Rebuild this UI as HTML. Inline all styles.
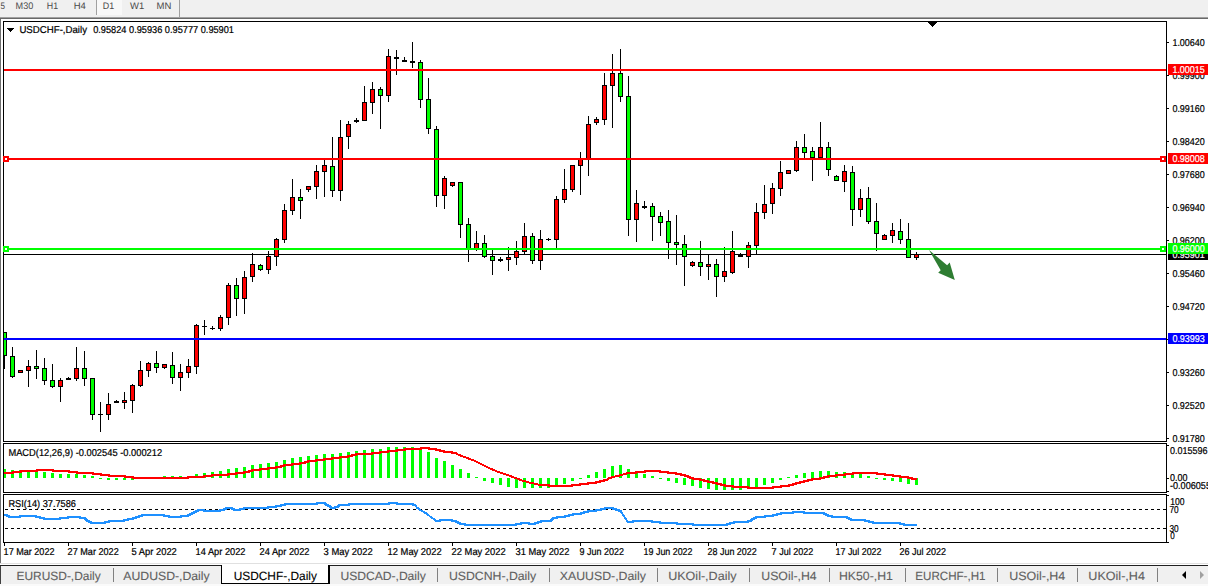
<!DOCTYPE html>
<html><head><meta charset="utf-8"><title>USDCHF-,Daily</title>
<style>html,body{margin:0;padding:0;background:#fff;overflow:hidden}svg{display:block}text{font-family:"Liberation Sans",sans-serif}</style>
</head><body>
<svg width="1208" height="586" viewBox="0 0 1208 586">
<rect x="0" y="0" width="1208" height="586" fill="#fff"/>
<rect x="0" y="0" width="1208" height="17" fill="#f0f0f0"/>
<rect x="0" y="17" width="1208" height="1" fill="#a0a0a0"/>
<rect x="0" y="18" width="1208" height="1" fill="#696969"/>
<rect x="97" y="0" width="25" height="15" fill="#f8f8f8"/>
<rect x="96" y="0" width="1" height="15" fill="#a0a0a0"/>
<rect x="179" y="0" width="1" height="17" fill="#a0a0a0"/>
<text x="0.5" y="9" font-size="9.5" fill="#4a4a4a" textLength="4.5" lengthAdjust="spacingAndGlyphs" stroke="#4a4a4a" stroke-width="0" text-rendering="geometricPrecision">5</text>
<text x="15.6" y="9" font-size="9.5" fill="#4a4a4a" textLength="17.7" lengthAdjust="spacingAndGlyphs" stroke="#4a4a4a" stroke-width="0" text-rendering="geometricPrecision">M30</text>
<text x="46.8" y="9" font-size="9.5" fill="#4a4a4a" textLength="11.3" lengthAdjust="spacingAndGlyphs" stroke="#4a4a4a" stroke-width="0" text-rendering="geometricPrecision">H1</text>
<text x="73.7" y="9" font-size="9.5" fill="#4a4a4a" textLength="12.1" lengthAdjust="spacingAndGlyphs" stroke="#4a4a4a" stroke-width="0" text-rendering="geometricPrecision">H4</text>
<text x="102.8" y="9" font-size="9.5" fill="#4a4a4a" textLength="11.4" lengthAdjust="spacingAndGlyphs" stroke="#4a4a4a" stroke-width="0" text-rendering="geometricPrecision">D1</text>
<text x="130" y="9" font-size="9.5" fill="#4a4a4a" textLength="14.2" lengthAdjust="spacingAndGlyphs" stroke="#4a4a4a" stroke-width="0" text-rendering="geometricPrecision">W1</text>
<text x="156.6" y="9" font-size="9.5" fill="#4a4a4a" textLength="14.8" lengthAdjust="spacingAndGlyphs" stroke="#4a4a4a" stroke-width="0" text-rendering="geometricPrecision">MN</text>
<rect x="0" y="19" width="1" height="545" fill="#707070"/>
<rect x="3" y="21" width="1164" height="1" fill="#000"/>
<rect x="3" y="441" width="1164" height="1" fill="#000"/>
<rect x="3" y="21" width="1" height="421" fill="#000"/>
<rect x="1166" y="21" width="1" height="421" fill="#000"/>
<rect x="3" y="443" width="1164" height="1" fill="#000"/>
<rect x="3" y="492" width="1164" height="1" fill="#000"/>
<rect x="3" y="443" width="1" height="50" fill="#000"/>
<rect x="1166" y="443" width="1" height="50" fill="#000"/>
<rect x="3" y="494" width="1164" height="1" fill="#000"/>
<rect x="3" y="542" width="1164" height="1" fill="#000"/>
<rect x="3" y="494" width="1" height="49" fill="#000"/>
<rect x="1166" y="494" width="1" height="49" fill="#000"/>
<g shape-rendering="crispEdges">
<rect x="4" y="254" width="1162" height="1" fill="#000"/>
<rect x="4" y="332" width="1" height="37" fill="#000"/>
<rect x="2" y="332" width="5" height="24" fill="#000"/>
<rect x="3" y="333" width="3" height="22" fill="#00ff00"/>
<rect x="12" y="347" width="1" height="31" fill="#000"/>
<rect x="10" y="356" width="5" height="21" fill="#000"/>
<rect x="11" y="357" width="3" height="19" fill="#00ff00"/>
<rect x="20" y="370" width="1" height="3" fill="#000"/>
<rect x="18" y="370" width="5" height="3" fill="#000"/>
<rect x="19" y="371" width="3" height="1" fill="#ff0000"/>
<rect x="28" y="360" width="1" height="27" fill="#000"/>
<rect x="26" y="366" width="5" height="5" fill="#000"/>
<rect x="27" y="367" width="3" height="3" fill="#ff0000"/>
<rect x="36" y="350" width="1" height="29" fill="#000"/>
<rect x="34" y="366" width="5" height="3" fill="#000"/>
<rect x="35" y="367" width="3" height="1" fill="#00ff00"/>
<rect x="44" y="358" width="1" height="27" fill="#000"/>
<rect x="42" y="368" width="5" height="13" fill="#000"/>
<rect x="43" y="369" width="3" height="11" fill="#00ff00"/>
<rect x="52" y="364" width="1" height="24" fill="#000"/>
<rect x="50" y="380" width="5" height="7" fill="#000"/>
<rect x="51" y="381" width="3" height="5" fill="#00ff00"/>
<rect x="60" y="378" width="1" height="24" fill="#000"/>
<rect x="58" y="380" width="5" height="7" fill="#000"/>
<rect x="59" y="381" width="3" height="5" fill="#ff0000"/>
<rect x="68" y="377" width="1" height="3" fill="#000"/>
<rect x="66" y="378" width="5" height="2" fill="#000"/>
<rect x="76" y="347" width="1" height="34" fill="#000"/>
<rect x="74" y="368" width="5" height="11" fill="#000"/>
<rect x="75" y="369" width="3" height="9" fill="#ff0000"/>
<rect x="84" y="351" width="1" height="35" fill="#000"/>
<rect x="82" y="368" width="5" height="11" fill="#000"/>
<rect x="83" y="369" width="3" height="9" fill="#00ff00"/>
<rect x="92" y="378" width="1" height="42" fill="#000"/>
<rect x="90" y="378" width="5" height="37" fill="#000"/>
<rect x="91" y="379" width="3" height="35" fill="#00ff00"/>
<rect x="100" y="402" width="1" height="30" fill="#000"/>
<rect x="98" y="414" width="5" height="1" fill="#000"/>
<rect x="108" y="393" width="1" height="27" fill="#000"/>
<rect x="106" y="404" width="5" height="11" fill="#000"/>
<rect x="107" y="405" width="3" height="9" fill="#ff0000"/>
<rect x="116" y="400" width="1" height="3" fill="#000"/>
<rect x="114" y="401" width="5" height="2" fill="#000"/>
<rect x="124" y="392" width="1" height="17" fill="#000"/>
<rect x="122" y="400" width="5" height="3" fill="#000"/>
<rect x="123" y="401" width="3" height="1" fill="#ff0000"/>
<rect x="132" y="384" width="1" height="29" fill="#000"/>
<rect x="130" y="385" width="5" height="16" fill="#000"/>
<rect x="131" y="386" width="3" height="14" fill="#ff0000"/>
<rect x="140" y="361" width="1" height="26" fill="#000"/>
<rect x="138" y="370" width="5" height="16" fill="#000"/>
<rect x="139" y="371" width="3" height="14" fill="#ff0000"/>
<rect x="148" y="362" width="1" height="15" fill="#000"/>
<rect x="146" y="363" width="5" height="8" fill="#000"/>
<rect x="147" y="364" width="3" height="6" fill="#ff0000"/>
<rect x="156" y="351" width="1" height="22" fill="#000"/>
<rect x="154" y="363" width="5" height="5" fill="#000"/>
<rect x="155" y="364" width="3" height="3" fill="#00ff00"/>
<rect x="164" y="364" width="1" height="5" fill="#000"/>
<rect x="162" y="364" width="5" height="4" fill="#000"/>
<rect x="163" y="365" width="3" height="2" fill="#ff0000"/>
<rect x="172" y="352" width="1" height="32" fill="#000"/>
<rect x="170" y="365" width="5" height="13" fill="#000"/>
<rect x="171" y="366" width="3" height="11" fill="#00ff00"/>
<rect x="180" y="364" width="1" height="27" fill="#000"/>
<rect x="178" y="372" width="5" height="6" fill="#000"/>
<rect x="179" y="373" width="3" height="4" fill="#ff0000"/>
<rect x="188" y="359" width="1" height="19" fill="#000"/>
<rect x="186" y="366" width="5" height="7" fill="#000"/>
<rect x="187" y="367" width="3" height="5" fill="#ff0000"/>
<rect x="196" y="324" width="1" height="50" fill="#000"/>
<rect x="194" y="325" width="5" height="42" fill="#000"/>
<rect x="195" y="326" width="3" height="40" fill="#ff0000"/>
<rect x="204" y="320" width="1" height="15" fill="#000"/>
<rect x="202" y="326" width="5" height="1" fill="#000"/>
<rect x="212" y="326" width="1" height="4" fill="#000"/>
<rect x="210" y="328" width="5" height="1" fill="#000"/>
<rect x="220" y="315" width="1" height="16" fill="#000"/>
<rect x="218" y="317" width="5" height="12" fill="#000"/>
<rect x="219" y="318" width="3" height="10" fill="#ff0000"/>
<rect x="228" y="283" width="1" height="42" fill="#000"/>
<rect x="226" y="285" width="5" height="33" fill="#000"/>
<rect x="227" y="286" width="3" height="31" fill="#ff0000"/>
<rect x="236" y="278" width="1" height="38" fill="#000"/>
<rect x="234" y="285" width="5" height="14" fill="#000"/>
<rect x="235" y="286" width="3" height="12" fill="#00ff00"/>
<rect x="244" y="271" width="1" height="43" fill="#000"/>
<rect x="242" y="277" width="5" height="22" fill="#000"/>
<rect x="243" y="278" width="3" height="20" fill="#ff0000"/>
<rect x="252" y="253" width="1" height="29" fill="#000"/>
<rect x="250" y="264" width="5" height="13" fill="#000"/>
<rect x="251" y="265" width="3" height="11" fill="#ff0000"/>
<rect x="260" y="264" width="1" height="7" fill="#000"/>
<rect x="258" y="265" width="5" height="5" fill="#000"/>
<rect x="259" y="266" width="3" height="3" fill="#00ff00"/>
<rect x="268" y="251" width="1" height="23" fill="#000"/>
<rect x="266" y="256" width="5" height="14" fill="#000"/>
<rect x="267" y="257" width="3" height="12" fill="#ff0000"/>
<rect x="276" y="238" width="1" height="28" fill="#000"/>
<rect x="274" y="239" width="5" height="18" fill="#000"/>
<rect x="275" y="240" width="3" height="16" fill="#ff0000"/>
<rect x="284" y="204" width="1" height="39" fill="#000"/>
<rect x="282" y="210" width="5" height="30" fill="#000"/>
<rect x="283" y="211" width="3" height="28" fill="#ff0000"/>
<rect x="292" y="179" width="1" height="36" fill="#000"/>
<rect x="290" y="197" width="5" height="14" fill="#000"/>
<rect x="291" y="198" width="3" height="12" fill="#ff0000"/>
<rect x="300" y="189" width="1" height="30" fill="#000"/>
<rect x="298" y="197" width="5" height="4" fill="#000"/>
<rect x="299" y="198" width="3" height="2" fill="#00ff00"/>
<rect x="308" y="186" width="1" height="6" fill="#000"/>
<rect x="306" y="186" width="5" height="4" fill="#000"/>
<rect x="307" y="187" width="3" height="2" fill="#ff0000"/>
<rect x="316" y="165" width="1" height="34" fill="#000"/>
<rect x="314" y="171" width="5" height="16" fill="#000"/>
<rect x="315" y="172" width="3" height="14" fill="#ff0000"/>
<rect x="324" y="160" width="1" height="37" fill="#000"/>
<rect x="322" y="165" width="5" height="7" fill="#000"/>
<rect x="323" y="166" width="3" height="5" fill="#ff0000"/>
<rect x="332" y="137" width="1" height="60" fill="#000"/>
<rect x="330" y="166" width="5" height="25" fill="#000"/>
<rect x="331" y="167" width="3" height="23" fill="#00ff00"/>
<rect x="340" y="120" width="1" height="81" fill="#000"/>
<rect x="338" y="137" width="5" height="54" fill="#000"/>
<rect x="339" y="138" width="3" height="52" fill="#ff0000"/>
<rect x="348" y="121" width="1" height="28" fill="#000"/>
<rect x="346" y="124" width="5" height="13" fill="#000"/>
<rect x="347" y="125" width="3" height="11" fill="#ff0000"/>
<rect x="356" y="118" width="1" height="5" fill="#000"/>
<rect x="354" y="120" width="5" height="2" fill="#000"/>
<rect x="364" y="86" width="1" height="35" fill="#000"/>
<rect x="362" y="102" width="5" height="19" fill="#000"/>
<rect x="363" y="103" width="3" height="17" fill="#ff0000"/>
<rect x="372" y="82" width="1" height="32" fill="#000"/>
<rect x="370" y="89" width="5" height="14" fill="#000"/>
<rect x="371" y="90" width="3" height="12" fill="#ff0000"/>
<rect x="380" y="87" width="1" height="42" fill="#000"/>
<rect x="378" y="89" width="5" height="7" fill="#000"/>
<rect x="379" y="90" width="3" height="5" fill="#00ff00"/>
<rect x="388" y="49" width="1" height="53" fill="#000"/>
<rect x="386" y="56" width="5" height="40" fill="#000"/>
<rect x="387" y="57" width="3" height="38" fill="#ff0000"/>
<rect x="396" y="50" width="1" height="25" fill="#000"/>
<rect x="394" y="57" width="5" height="2" fill="#000"/>
<rect x="404" y="57" width="1" height="5" fill="#000"/>
<rect x="402" y="60" width="5" height="2" fill="#000"/>
<rect x="412" y="42" width="1" height="26" fill="#000"/>
<rect x="410" y="61" width="5" height="2" fill="#000"/>
<rect x="420" y="60" width="1" height="48" fill="#000"/>
<rect x="418" y="62" width="5" height="38" fill="#000"/>
<rect x="419" y="63" width="3" height="36" fill="#00ff00"/>
<rect x="428" y="78" width="1" height="56" fill="#000"/>
<rect x="426" y="99" width="5" height="30" fill="#000"/>
<rect x="427" y="100" width="3" height="28" fill="#00ff00"/>
<rect x="436" y="126" width="1" height="81" fill="#000"/>
<rect x="434" y="129" width="5" height="67" fill="#000"/>
<rect x="435" y="130" width="3" height="65" fill="#00ff00"/>
<rect x="444" y="176" width="1" height="33" fill="#000"/>
<rect x="442" y="178" width="5" height="18" fill="#000"/>
<rect x="443" y="179" width="3" height="16" fill="#ff0000"/>
<rect x="452" y="182" width="1" height="5" fill="#000"/>
<rect x="450" y="182" width="5" height="4" fill="#000"/>
<rect x="451" y="183" width="3" height="2" fill="#ff0000"/>
<rect x="460" y="182" width="1" height="56" fill="#000"/>
<rect x="458" y="182" width="5" height="43" fill="#000"/>
<rect x="459" y="183" width="3" height="41" fill="#00ff00"/>
<rect x="468" y="218" width="1" height="44" fill="#000"/>
<rect x="466" y="224" width="5" height="26" fill="#000"/>
<rect x="467" y="225" width="3" height="24" fill="#00ff00"/>
<rect x="476" y="231" width="1" height="20" fill="#000"/>
<rect x="474" y="243" width="5" height="7" fill="#000"/>
<rect x="475" y="244" width="3" height="5" fill="#ff0000"/>
<rect x="484" y="235" width="1" height="23" fill="#000"/>
<rect x="482" y="243" width="5" height="14" fill="#000"/>
<rect x="483" y="244" width="3" height="12" fill="#00ff00"/>
<rect x="492" y="250" width="1" height="25" fill="#000"/>
<rect x="490" y="256" width="5" height="5" fill="#000"/>
<rect x="491" y="257" width="3" height="3" fill="#00ff00"/>
<rect x="500" y="257" width="1" height="5" fill="#000"/>
<rect x="498" y="259" width="5" height="2" fill="#000"/>
<rect x="508" y="247" width="1" height="24" fill="#000"/>
<rect x="506" y="257" width="5" height="3" fill="#000"/>
<rect x="507" y="258" width="3" height="1" fill="#ff0000"/>
<rect x="516" y="241" width="1" height="24" fill="#000"/>
<rect x="514" y="251" width="5" height="7" fill="#000"/>
<rect x="515" y="252" width="3" height="5" fill="#ff0000"/>
<rect x="524" y="223" width="1" height="31" fill="#000"/>
<rect x="522" y="236" width="5" height="16" fill="#000"/>
<rect x="523" y="237" width="3" height="14" fill="#ff0000"/>
<rect x="532" y="233" width="1" height="31" fill="#000"/>
<rect x="530" y="236" width="5" height="25" fill="#000"/>
<rect x="531" y="237" width="3" height="23" fill="#00ff00"/>
<rect x="540" y="230" width="1" height="40" fill="#000"/>
<rect x="538" y="239" width="5" height="22" fill="#000"/>
<rect x="539" y="240" width="3" height="20" fill="#ff0000"/>
<rect x="548" y="238" width="1" height="3" fill="#000"/>
<rect x="546" y="239" width="5" height="1" fill="#000"/>
<rect x="556" y="196" width="1" height="52" fill="#000"/>
<rect x="554" y="199" width="5" height="41" fill="#000"/>
<rect x="555" y="200" width="3" height="39" fill="#ff0000"/>
<rect x="564" y="169" width="1" height="34" fill="#000"/>
<rect x="562" y="189" width="5" height="11" fill="#000"/>
<rect x="563" y="190" width="3" height="9" fill="#ff0000"/>
<rect x="572" y="165" width="1" height="27" fill="#000"/>
<rect x="570" y="165" width="5" height="25" fill="#000"/>
<rect x="571" y="166" width="3" height="23" fill="#ff0000"/>
<rect x="580" y="152" width="1" height="43" fill="#000"/>
<rect x="578" y="158" width="5" height="8" fill="#000"/>
<rect x="579" y="159" width="3" height="6" fill="#ff0000"/>
<rect x="588" y="116" width="1" height="60" fill="#000"/>
<rect x="586" y="124" width="5" height="35" fill="#000"/>
<rect x="587" y="125" width="3" height="33" fill="#ff0000"/>
<rect x="596" y="117" width="1" height="8" fill="#000"/>
<rect x="594" y="119" width="5" height="4" fill="#000"/>
<rect x="595" y="120" width="3" height="2" fill="#ff0000"/>
<rect x="604" y="73" width="1" height="52" fill="#000"/>
<rect x="602" y="85" width="5" height="35" fill="#000"/>
<rect x="603" y="86" width="3" height="33" fill="#ff0000"/>
<rect x="612" y="54" width="1" height="74" fill="#000"/>
<rect x="610" y="73" width="5" height="13" fill="#000"/>
<rect x="611" y="74" width="3" height="11" fill="#ff0000"/>
<rect x="620" y="49" width="1" height="53" fill="#000"/>
<rect x="618" y="73" width="5" height="24" fill="#000"/>
<rect x="619" y="74" width="3" height="22" fill="#00ff00"/>
<rect x="628" y="76" width="1" height="160" fill="#000"/>
<rect x="626" y="96" width="5" height="124" fill="#000"/>
<rect x="627" y="97" width="3" height="122" fill="#00ff00"/>
<rect x="636" y="190" width="1" height="52" fill="#000"/>
<rect x="634" y="203" width="5" height="17" fill="#000"/>
<rect x="635" y="204" width="3" height="15" fill="#ff0000"/>
<rect x="644" y="201" width="1" height="8" fill="#000"/>
<rect x="642" y="206" width="5" height="2" fill="#000"/>
<rect x="652" y="203" width="1" height="38" fill="#000"/>
<rect x="650" y="206" width="5" height="11" fill="#000"/>
<rect x="651" y="207" width="3" height="9" fill="#00ff00"/>
<rect x="660" y="212" width="1" height="24" fill="#000"/>
<rect x="658" y="216" width="5" height="7" fill="#000"/>
<rect x="659" y="217" width="3" height="5" fill="#00ff00"/>
<rect x="668" y="210" width="1" height="49" fill="#000"/>
<rect x="666" y="221" width="5" height="22" fill="#000"/>
<rect x="667" y="222" width="3" height="20" fill="#00ff00"/>
<rect x="676" y="215" width="1" height="50" fill="#000"/>
<rect x="674" y="242" width="5" height="3" fill="#000"/>
<rect x="675" y="243" width="3" height="1" fill="#00ff00"/>
<rect x="684" y="235" width="1" height="51" fill="#000"/>
<rect x="682" y="244" width="5" height="13" fill="#000"/>
<rect x="683" y="245" width="3" height="11" fill="#00ff00"/>
<rect x="692" y="261" width="1" height="6" fill="#000"/>
<rect x="690" y="262" width="5" height="4" fill="#000"/>
<rect x="691" y="263" width="3" height="2" fill="#ff0000"/>
<rect x="700" y="241" width="1" height="35" fill="#000"/>
<rect x="698" y="262" width="5" height="5" fill="#000"/>
<rect x="699" y="263" width="3" height="3" fill="#00ff00"/>
<rect x="708" y="254" width="1" height="26" fill="#000"/>
<rect x="706" y="264" width="5" height="3" fill="#000"/>
<rect x="707" y="265" width="3" height="1" fill="#ff0000"/>
<rect x="716" y="259" width="1" height="38" fill="#000"/>
<rect x="714" y="264" width="5" height="13" fill="#000"/>
<rect x="715" y="265" width="3" height="11" fill="#00ff00"/>
<rect x="724" y="247" width="1" height="35" fill="#000"/>
<rect x="722" y="271" width="5" height="6" fill="#000"/>
<rect x="723" y="272" width="3" height="4" fill="#ff0000"/>
<rect x="732" y="231" width="1" height="43" fill="#000"/>
<rect x="730" y="251" width="5" height="22" fill="#000"/>
<rect x="731" y="252" width="3" height="20" fill="#ff0000"/>
<rect x="740" y="253" width="1" height="4" fill="#000"/>
<rect x="738" y="254" width="5" height="3" fill="#000"/>
<rect x="748" y="242" width="1" height="26" fill="#000"/>
<rect x="746" y="245" width="5" height="12" fill="#000"/>
<rect x="747" y="246" width="3" height="10" fill="#ff0000"/>
<rect x="756" y="203" width="1" height="52" fill="#000"/>
<rect x="754" y="212" width="5" height="34" fill="#000"/>
<rect x="755" y="213" width="3" height="32" fill="#ff0000"/>
<rect x="764" y="185" width="1" height="34" fill="#000"/>
<rect x="762" y="204" width="5" height="9" fill="#000"/>
<rect x="763" y="205" width="3" height="7" fill="#ff0000"/>
<rect x="772" y="183" width="1" height="31" fill="#000"/>
<rect x="770" y="188" width="5" height="16" fill="#000"/>
<rect x="771" y="189" width="3" height="14" fill="#ff0000"/>
<rect x="780" y="161" width="1" height="35" fill="#000"/>
<rect x="778" y="172" width="5" height="17" fill="#000"/>
<rect x="779" y="173" width="3" height="15" fill="#ff0000"/>
<rect x="788" y="170" width="1" height="4" fill="#000"/>
<rect x="786" y="170" width="5" height="4" fill="#000"/>
<rect x="787" y="171" width="3" height="2" fill="#ff0000"/>
<rect x="796" y="141" width="1" height="31" fill="#000"/>
<rect x="794" y="147" width="5" height="24" fill="#000"/>
<rect x="795" y="148" width="3" height="22" fill="#ff0000"/>
<rect x="804" y="134" width="1" height="24" fill="#000"/>
<rect x="802" y="147" width="5" height="6" fill="#000"/>
<rect x="803" y="148" width="3" height="4" fill="#00ff00"/>
<rect x="812" y="147" width="1" height="34" fill="#000"/>
<rect x="810" y="151" width="5" height="7" fill="#000"/>
<rect x="811" y="152" width="3" height="5" fill="#00ff00"/>
<rect x="820" y="122" width="1" height="36" fill="#000"/>
<rect x="818" y="147" width="5" height="11" fill="#000"/>
<rect x="819" y="148" width="3" height="9" fill="#ff0000"/>
<rect x="828" y="142" width="1" height="34" fill="#000"/>
<rect x="826" y="147" width="5" height="23" fill="#000"/>
<rect x="827" y="148" width="3" height="21" fill="#00ff00"/>
<rect x="836" y="175" width="1" height="6" fill="#000"/>
<rect x="834" y="176" width="5" height="5" fill="#000"/>
<rect x="835" y="177" width="3" height="3" fill="#00ff00"/>
<rect x="844" y="165" width="1" height="27" fill="#000"/>
<rect x="842" y="171" width="5" height="11" fill="#000"/>
<rect x="843" y="172" width="3" height="9" fill="#ff0000"/>
<rect x="852" y="166" width="1" height="60" fill="#000"/>
<rect x="850" y="172" width="5" height="38" fill="#000"/>
<rect x="851" y="173" width="3" height="36" fill="#00ff00"/>
<rect x="860" y="189" width="1" height="28" fill="#000"/>
<rect x="858" y="198" width="5" height="12" fill="#000"/>
<rect x="859" y="199" width="3" height="10" fill="#ff0000"/>
<rect x="868" y="187" width="1" height="37" fill="#000"/>
<rect x="866" y="198" width="5" height="24" fill="#000"/>
<rect x="867" y="199" width="3" height="22" fill="#00ff00"/>
<rect x="876" y="203" width="1" height="48" fill="#000"/>
<rect x="874" y="221" width="5" height="13" fill="#000"/>
<rect x="875" y="222" width="3" height="11" fill="#00ff00"/>
<rect x="884" y="234" width="1" height="6" fill="#000"/>
<rect x="882" y="235" width="5" height="5" fill="#000"/>
<rect x="883" y="236" width="3" height="3" fill="#ff0000"/>
<rect x="892" y="223" width="1" height="20" fill="#000"/>
<rect x="890" y="230" width="5" height="6" fill="#000"/>
<rect x="891" y="231" width="3" height="4" fill="#ff0000"/>
<rect x="900" y="219" width="1" height="25" fill="#000"/>
<rect x="898" y="231" width="5" height="9" fill="#000"/>
<rect x="899" y="232" width="3" height="7" fill="#00ff00"/>
<rect x="908" y="223" width="1" height="35" fill="#000"/>
<rect x="906" y="239" width="5" height="19" fill="#000"/>
<rect x="907" y="240" width="3" height="17" fill="#00ff00"/>
<rect x="916" y="252" width="1" height="8" fill="#000"/>
<rect x="914" y="254" width="5" height="4" fill="#000"/>
<rect x="915" y="255" width="3" height="2" fill="#ff0000"/>
<rect x="3" y="21" width="1" height="421" fill="#000"/>
<rect x="0" y="19" width="3" height="545" fill="#fff"/>
<rect x="0" y="19" width="1" height="545" fill="#707070"/>
<rect x="4" y="69" width="1162" height="2" fill="#ff0000"/>
<rect x="4" y="158" width="1162" height="2" fill="#ff0000"/>
<rect x="4" y="248" width="1162" height="2" fill="#00ff00"/>
<rect x="4" y="338" width="1162" height="2" fill="#0000ff"/>
<rect x="3" y="156" width="6" height="6" fill="#ff0000"/>
<rect x="5" y="158" width="2" height="2" fill="#fff"/>
<rect x="1160" y="156" width="6" height="6" fill="#ff0000"/>
<rect x="1162" y="158" width="2" height="2" fill="#fff"/>
<rect x="3" y="246" width="6" height="6" fill="#00ff00"/>
<rect x="5" y="248" width="2" height="2" fill="#fff"/>
<rect x="1160" y="246" width="6" height="6" fill="#00ff00"/>
<rect x="1162" y="248" width="2" height="2" fill="#fff"/>
<rect x="928" y="22" width="9" height="1" fill="#000"/>
<rect x="929" y="23" width="7" height="1" fill="#000"/>
<rect x="930" y="24" width="5" height="1" fill="#000"/>
<rect x="931" y="25" width="3" height="1" fill="#000"/>
<rect x="932" y="26" width="1" height="1" fill="#000"/>
<rect x="7" y="28" width="7" height="1" fill="#000"/>
<rect x="8" y="29" width="5" height="1" fill="#000"/>
<rect x="9" y="30" width="3" height="1" fill="#000"/>
<rect x="10" y="31" width="1" height="1" fill="#000"/>
</g>
<polygon points="929,250 947.1,265.2 949.7,262.4 954.8,279.9 938.2,272.8 940.7,270.3" fill="#2e7d32"/>
<g shape-rendering="crispEdges">
<rect x="1167" y="42" width="2" height="1" fill="#000"/>
<rect x="1167" y="75" width="2" height="1" fill="#000"/>
<rect x="1167" y="108" width="2" height="1" fill="#000"/>
<rect x="1167" y="141" width="2" height="1" fill="#000"/>
<rect x="1167" y="174" width="2" height="1" fill="#000"/>
<rect x="1167" y="207" width="2" height="1" fill="#000"/>
<rect x="1167" y="240" width="2" height="1" fill="#000"/>
<rect x="1167" y="273" width="2" height="1" fill="#000"/>
<rect x="1167" y="306" width="2" height="1" fill="#000"/>
<rect x="1167" y="339" width="2" height="1" fill="#000"/>
<rect x="1167" y="372" width="2" height="1" fill="#000"/>
<rect x="1167" y="405" width="2" height="1" fill="#000"/>
<rect x="1167" y="438" width="2" height="1" fill="#000"/>
</g>
<text x="1172.4" y="46" font-size="10" fill="#000" textLength="32.4" lengthAdjust="spacingAndGlyphs" stroke="#000" stroke-width="0.22" text-rendering="geometricPrecision">1.00640</text>
<text x="1172.4" y="79" font-size="10" fill="#000" textLength="32.4" lengthAdjust="spacingAndGlyphs" stroke="#000" stroke-width="0.22" text-rendering="geometricPrecision">0.99900</text>
<text x="1172.4" y="112" font-size="10" fill="#000" textLength="32.4" lengthAdjust="spacingAndGlyphs" stroke="#000" stroke-width="0.22" text-rendering="geometricPrecision">0.99160</text>
<text x="1172.4" y="145" font-size="10" fill="#000" textLength="32.4" lengthAdjust="spacingAndGlyphs" stroke="#000" stroke-width="0.22" text-rendering="geometricPrecision">0.98420</text>
<text x="1172.4" y="178" font-size="10" fill="#000" textLength="32.4" lengthAdjust="spacingAndGlyphs" stroke="#000" stroke-width="0.22" text-rendering="geometricPrecision">0.97680</text>
<text x="1172.4" y="211" font-size="10" fill="#000" textLength="32.4" lengthAdjust="spacingAndGlyphs" stroke="#000" stroke-width="0.22" text-rendering="geometricPrecision">0.96940</text>
<text x="1172.4" y="244" font-size="10" fill="#000" textLength="32.4" lengthAdjust="spacingAndGlyphs" stroke="#000" stroke-width="0.22" text-rendering="geometricPrecision">0.96200</text>
<text x="1172.4" y="277" font-size="10" fill="#000" textLength="32.4" lengthAdjust="spacingAndGlyphs" stroke="#000" stroke-width="0.22" text-rendering="geometricPrecision">0.95460</text>
<text x="1172.4" y="310" font-size="10" fill="#000" textLength="32.4" lengthAdjust="spacingAndGlyphs" stroke="#000" stroke-width="0.22" text-rendering="geometricPrecision">0.94720</text>
<text x="1172.4" y="343" font-size="10" fill="#000" textLength="32.4" lengthAdjust="spacingAndGlyphs" stroke="#000" stroke-width="0.22" text-rendering="geometricPrecision">0.93980</text>
<text x="1172.4" y="376" font-size="10" fill="#000" textLength="32.4" lengthAdjust="spacingAndGlyphs" stroke="#000" stroke-width="0.22" text-rendering="geometricPrecision">0.93260</text>
<text x="1172.4" y="409" font-size="10" fill="#000" textLength="32.4" lengthAdjust="spacingAndGlyphs" stroke="#000" stroke-width="0.22" text-rendering="geometricPrecision">0.92520</text>
<text x="1172.4" y="442" font-size="10" fill="#000" textLength="32.4" lengthAdjust="spacingAndGlyphs" stroke="#000" stroke-width="0.22" text-rendering="geometricPrecision">0.91780</text>
<rect x="1168" y="249" width="40" height="11" fill="#000"/>
<text x="1172.4" y="258" font-size="10" fill="#fff" textLength="32.4" lengthAdjust="spacingAndGlyphs" stroke="#fff" stroke-width="0.22" text-rendering="geometricPrecision">0.95901</text>
<rect x="1168" y="243" width="40" height="11" fill="#00ff00"/>
<text x="1172.4" y="252" font-size="10" fill="#fff" textLength="32.4" lengthAdjust="spacingAndGlyphs" stroke="#fff" stroke-width="0.22" text-rendering="geometricPrecision">0.96000</text>
<rect x="1168" y="64" width="40" height="11" fill="#ff0000"/>
<text x="1172.4" y="73" font-size="10" fill="#fff" textLength="32.4" lengthAdjust="spacingAndGlyphs" stroke="#fff" stroke-width="0.22" text-rendering="geometricPrecision">1.00015</text>
<rect x="1168" y="153" width="40" height="11" fill="#ff0000"/>
<text x="1172.4" y="162" font-size="10" fill="#fff" textLength="32.4" lengthAdjust="spacingAndGlyphs" stroke="#fff" stroke-width="0.22" text-rendering="geometricPrecision">0.98008</text>
<rect x="1168" y="333" width="40" height="11" fill="#0000ff"/>
<text x="1172.4" y="342" font-size="10" fill="#fff" textLength="32.4" lengthAdjust="spacingAndGlyphs" stroke="#fff" stroke-width="0.22" text-rendering="geometricPrecision">0.93993</text>
<text x="19.4" y="33" font-size="10" fill="#000" textLength="67.6" lengthAdjust="spacingAndGlyphs" stroke="#000" stroke-width="0.22" text-rendering="geometricPrecision">USDCHF-,Daily</text>
<text x="93.2" y="33" font-size="10" fill="#000" textLength="140.8" lengthAdjust="spacingAndGlyphs" stroke="#000" stroke-width="0.22" text-rendering="geometricPrecision">0.95824 0.95936 0.95777 0.95901</text>
<g shape-rendering="crispEdges">
<rect x="3" y="469" width="3" height="9" fill="#00ff00"/>
<rect x="11" y="470" width="3" height="8" fill="#00ff00"/>
<rect x="19" y="470" width="3" height="8" fill="#00ff00"/>
<rect x="27" y="470" width="3" height="8" fill="#00ff00"/>
<rect x="35" y="470" width="3" height="8" fill="#00ff00"/>
<rect x="43" y="472" width="3" height="6" fill="#00ff00"/>
<rect x="51" y="473" width="3" height="5" fill="#00ff00"/>
<rect x="59" y="474" width="3" height="4" fill="#00ff00"/>
<rect x="67" y="474" width="3" height="4" fill="#00ff00"/>
<rect x="75" y="474" width="3" height="4" fill="#00ff00"/>
<rect x="83" y="475" width="3" height="3" fill="#00ff00"/>
<rect x="91" y="476" width="3" height="2" fill="#00ff00"/>
<rect x="99" y="478" width="3" height="1" fill="#00ff00"/>
<rect x="107" y="478" width="3" height="2" fill="#00ff00"/>
<rect x="115" y="478" width="3" height="2" fill="#00ff00"/>
<rect x="123" y="478" width="3" height="2" fill="#00ff00"/>
<rect x="131" y="478" width="3" height="2" fill="#00ff00"/>
<rect x="139" y="478" width="3" height="1" fill="#00ff00"/>
<rect x="147" y="477" width="3" height="1" fill="#00ff00"/>
<rect x="155" y="477" width="3" height="1" fill="#00ff00"/>
<rect x="163" y="476" width="3" height="2" fill="#00ff00"/>
<rect x="171" y="476" width="3" height="2" fill="#00ff00"/>
<rect x="179" y="476" width="3" height="2" fill="#00ff00"/>
<rect x="187" y="476" width="3" height="2" fill="#00ff00"/>
<rect x="195" y="474" width="3" height="4" fill="#00ff00"/>
<rect x="203" y="473" width="3" height="5" fill="#00ff00"/>
<rect x="211" y="472" width="3" height="6" fill="#00ff00"/>
<rect x="219" y="471" width="3" height="7" fill="#00ff00"/>
<rect x="227" y="469" width="3" height="9" fill="#00ff00"/>
<rect x="235" y="468" width="3" height="10" fill="#00ff00"/>
<rect x="243" y="467" width="3" height="11" fill="#00ff00"/>
<rect x="251" y="465" width="3" height="13" fill="#00ff00"/>
<rect x="259" y="464" width="3" height="14" fill="#00ff00"/>
<rect x="267" y="463" width="3" height="15" fill="#00ff00"/>
<rect x="275" y="462" width="3" height="16" fill="#00ff00"/>
<rect x="283" y="460" width="3" height="18" fill="#00ff00"/>
<rect x="291" y="458" width="3" height="20" fill="#00ff00"/>
<rect x="299" y="457" width="3" height="21" fill="#00ff00"/>
<rect x="307" y="456" width="3" height="22" fill="#00ff00"/>
<rect x="315" y="455" width="3" height="23" fill="#00ff00"/>
<rect x="323" y="454" width="3" height="24" fill="#00ff00"/>
<rect x="331" y="454" width="3" height="24" fill="#00ff00"/>
<rect x="339" y="453" width="3" height="25" fill="#00ff00"/>
<rect x="347" y="452" width="3" height="26" fill="#00ff00"/>
<rect x="355" y="451" width="3" height="27" fill="#00ff00"/>
<rect x="363" y="450" width="3" height="28" fill="#00ff00"/>
<rect x="371" y="449" width="3" height="29" fill="#00ff00"/>
<rect x="379" y="449" width="3" height="29" fill="#00ff00"/>
<rect x="387" y="447" width="3" height="31" fill="#00ff00"/>
<rect x="395" y="447" width="3" height="31" fill="#00ff00"/>
<rect x="403" y="447" width="3" height="31" fill="#00ff00"/>
<rect x="411" y="447" width="3" height="31" fill="#00ff00"/>
<rect x="419" y="448" width="3" height="30" fill="#00ff00"/>
<rect x="427" y="452" width="3" height="26" fill="#00ff00"/>
<rect x="435" y="458" width="3" height="20" fill="#00ff00"/>
<rect x="443" y="461" width="3" height="17" fill="#00ff00"/>
<rect x="451" y="465" width="3" height="13" fill="#00ff00"/>
<rect x="459" y="469" width="3" height="9" fill="#00ff00"/>
<rect x="467" y="473" width="3" height="5" fill="#00ff00"/>
<rect x="475" y="477" width="3" height="1" fill="#00ff00"/>
<rect x="483" y="478" width="3" height="3" fill="#00ff00"/>
<rect x="491" y="478" width="3" height="5" fill="#00ff00"/>
<rect x="499" y="478" width="3" height="7" fill="#00ff00"/>
<rect x="507" y="478" width="3" height="9" fill="#00ff00"/>
<rect x="515" y="478" width="3" height="10" fill="#00ff00"/>
<rect x="523" y="478" width="3" height="10" fill="#00ff00"/>
<rect x="531" y="478" width="3" height="10" fill="#00ff00"/>
<rect x="539" y="478" width="3" height="10" fill="#00ff00"/>
<rect x="547" y="478" width="3" height="10" fill="#00ff00"/>
<rect x="555" y="478" width="3" height="7" fill="#00ff00"/>
<rect x="563" y="478" width="3" height="6" fill="#00ff00"/>
<rect x="571" y="478" width="3" height="3" fill="#00ff00"/>
<rect x="579" y="478" width="3" height="1" fill="#00ff00"/>
<rect x="587" y="475" width="3" height="3" fill="#00ff00"/>
<rect x="595" y="472" width="3" height="6" fill="#00ff00"/>
<rect x="603" y="469" width="3" height="9" fill="#00ff00"/>
<rect x="611" y="466" width="3" height="12" fill="#00ff00"/>
<rect x="619" y="465" width="3" height="13" fill="#00ff00"/>
<rect x="627" y="469" width="3" height="9" fill="#00ff00"/>
<rect x="635" y="472" width="3" height="6" fill="#00ff00"/>
<rect x="643" y="474" width="3" height="4" fill="#00ff00"/>
<rect x="651" y="476" width="3" height="2" fill="#00ff00"/>
<rect x="659" y="478" width="3" height="1" fill="#00ff00"/>
<rect x="667" y="478" width="3" height="3" fill="#00ff00"/>
<rect x="675" y="478" width="3" height="5" fill="#00ff00"/>
<rect x="683" y="478" width="3" height="7" fill="#00ff00"/>
<rect x="691" y="478" width="3" height="8" fill="#00ff00"/>
<rect x="699" y="478" width="3" height="10" fill="#00ff00"/>
<rect x="707" y="478" width="3" height="11" fill="#00ff00"/>
<rect x="715" y="478" width="3" height="12" fill="#00ff00"/>
<rect x="723" y="478" width="3" height="12" fill="#00ff00"/>
<rect x="731" y="478" width="3" height="12" fill="#00ff00"/>
<rect x="739" y="478" width="3" height="12" fill="#00ff00"/>
<rect x="747" y="478" width="3" height="11" fill="#00ff00"/>
<rect x="755" y="478" width="3" height="9" fill="#00ff00"/>
<rect x="763" y="478" width="3" height="7" fill="#00ff00"/>
<rect x="771" y="478" width="3" height="5" fill="#00ff00"/>
<rect x="779" y="478" width="3" height="2" fill="#00ff00"/>
<rect x="787" y="477" width="3" height="1" fill="#00ff00"/>
<rect x="795" y="475" width="3" height="3" fill="#00ff00"/>
<rect x="803" y="473" width="3" height="5" fill="#00ff00"/>
<rect x="811" y="472" width="3" height="6" fill="#00ff00"/>
<rect x="819" y="471" width="3" height="7" fill="#00ff00"/>
<rect x="827" y="471" width="3" height="7" fill="#00ff00"/>
<rect x="835" y="472" width="3" height="6" fill="#00ff00"/>
<rect x="843" y="472" width="3" height="6" fill="#00ff00"/>
<rect x="851" y="473" width="3" height="5" fill="#00ff00"/>
<rect x="859" y="474" width="3" height="4" fill="#00ff00"/>
<rect x="867" y="476" width="3" height="2" fill="#00ff00"/>
<rect x="875" y="478" width="3" height="1" fill="#00ff00"/>
<rect x="883" y="478" width="3" height="2" fill="#00ff00"/>
<rect x="891" y="478" width="3" height="3" fill="#00ff00"/>
<rect x="899" y="478" width="3" height="4" fill="#00ff00"/>
<rect x="907" y="478" width="3" height="6" fill="#00ff00"/>
<rect x="915" y="478" width="3" height="7" fill="#00ff00"/>
<path d="M4,473 H12.6 V472 H21.2 V471 H37 V470 H53 V471 H68.9 V472 H76.8 V473 H92.7 V474 H100.7 V475 H108.6 V476 H124.5 V477 H132.5 V478 H188.4 V477 H204.3 V476 H212.3 V475 H228.1 V474 H236.1 V473 H244 V472 H248.7 V471 H252 V470 H260 V469 H267.9 V468 H275.8 V467 H280.5 V466 H283.8 V465 H291.7 V464 H299.7 V463 H304.6 V462 H308 V461 H315.9 V460 H323.8 V459 H331.8 V458 H339.7 V457 H348.3 V456 H352.3 V455 H356.3 V454 H372.2 V453 H380.1 V452 H388.1 V451 H396.7 V450 H404.6 V449 H420.5 V448 H428.5 V449 H436.4 V450 H440.4 V451 H444.4 V452 H452.3 V453 H456.3 L458,454.6 L466,457.5 L474,460.6 L482,464.6 L490,468.5 L498,471.8 L506,474.5 L514,477.4 L522,480.5 L530,482.7 L535,483.8 L540,485 H549 V486 H572 V485 H580 V484 H587.7 V483 H595.7 V482 H599.7 V481 H603.6 V480 H607.6 L608,478.7 L612,477.4 L616,476.2 L620,475.4 L624,474.2 L628.5,473 H635.8 V472 H645 V471 H660.3 V472 H668.2 V473 H676.2 V474 H680.8 V475 H684.8 V476 H688 V477 H690.3 V478 H692.7 V479 H700 V480 H704 V481 H708 V482 H712.6 V483 H716.6 V484 H720.5 V485 H724.5 V486 H732.5 V487 H748.3 V488 H772.6 V487 H780.5 V486 H788.5 V485 H792.5 V484 H796.4 V483 H800.4 V482 H804.4 V481 H808.3 V480 H812.3 V479 H820.3 V478 H824.2 V477 H828.2 V476 H836.2 V475 H844.8 V474 H852.7 V473 H876.6 V474 H884.5 V475 H892.5 V476 H900.4 V477 H908.3 V478 H912.3 V479 H917" fill="none" stroke="#ff0000" stroke-width="2"/>
<rect x="1167" y="445" width="2" height="1" fill="#000"/>
<rect x="1167" y="478" width="2" height="1" fill="#000"/>
<rect x="1167" y="491" width="2" height="1" fill="#000"/>
<rect x="3" y="443" width="1" height="50" fill="#000"/>
</g>
<text x="8.4" y="456" font-size="10" fill="#000" textLength="153.7" lengthAdjust="spacingAndGlyphs" stroke="#000" stroke-width="0.22" text-rendering="geometricPrecision">MACD(12,26,9) -0.002545 -0.000212</text>
<text x="1170" y="454" font-size="10" fill="#000" textLength="37.5" lengthAdjust="spacingAndGlyphs" stroke="#000" stroke-width="0.22" text-rendering="geometricPrecision">0.015596</text>
<text x="1170" y="481" font-size="10" fill="#000" textLength="17.4" lengthAdjust="spacingAndGlyphs" stroke="#000" stroke-width="0.22" text-rendering="geometricPrecision">0.00</text>
<text x="1170" y="489" font-size="10" fill="#000" textLength="41" lengthAdjust="spacingAndGlyphs" stroke="#000" stroke-width="0.22" text-rendering="geometricPrecision">-0.006055</text>
<g shape-rendering="crispEdges">
<rect x="5" y="509" width="3" height="1" fill="#000"/>
<rect x="11" y="509" width="3" height="1" fill="#000"/>
<rect x="17" y="509" width="3" height="1" fill="#000"/>
<rect x="23" y="509" width="3" height="1" fill="#000"/>
<rect x="29" y="509" width="3" height="1" fill="#000"/>
<rect x="35" y="509" width="3" height="1" fill="#000"/>
<rect x="41" y="509" width="3" height="1" fill="#000"/>
<rect x="47" y="509" width="3" height="1" fill="#000"/>
<rect x="53" y="509" width="3" height="1" fill="#000"/>
<rect x="59" y="509" width="3" height="1" fill="#000"/>
<rect x="65" y="509" width="3" height="1" fill="#000"/>
<rect x="71" y="509" width="3" height="1" fill="#000"/>
<rect x="77" y="509" width="3" height="1" fill="#000"/>
<rect x="83" y="509" width="3" height="1" fill="#000"/>
<rect x="89" y="509" width="3" height="1" fill="#000"/>
<rect x="95" y="509" width="3" height="1" fill="#000"/>
<rect x="101" y="509" width="3" height="1" fill="#000"/>
<rect x="107" y="509" width="3" height="1" fill="#000"/>
<rect x="113" y="509" width="3" height="1" fill="#000"/>
<rect x="119" y="509" width="3" height="1" fill="#000"/>
<rect x="125" y="509" width="3" height="1" fill="#000"/>
<rect x="131" y="509" width="3" height="1" fill="#000"/>
<rect x="137" y="509" width="3" height="1" fill="#000"/>
<rect x="143" y="509" width="3" height="1" fill="#000"/>
<rect x="149" y="509" width="3" height="1" fill="#000"/>
<rect x="155" y="509" width="3" height="1" fill="#000"/>
<rect x="161" y="509" width="3" height="1" fill="#000"/>
<rect x="167" y="509" width="3" height="1" fill="#000"/>
<rect x="173" y="509" width="3" height="1" fill="#000"/>
<rect x="179" y="509" width="3" height="1" fill="#000"/>
<rect x="185" y="509" width="3" height="1" fill="#000"/>
<rect x="191" y="509" width="3" height="1" fill="#000"/>
<rect x="197" y="509" width="3" height="1" fill="#000"/>
<rect x="203" y="509" width="3" height="1" fill="#000"/>
<rect x="209" y="509" width="3" height="1" fill="#000"/>
<rect x="215" y="509" width="3" height="1" fill="#000"/>
<rect x="221" y="509" width="3" height="1" fill="#000"/>
<rect x="227" y="509" width="3" height="1" fill="#000"/>
<rect x="233" y="509" width="3" height="1" fill="#000"/>
<rect x="239" y="509" width="3" height="1" fill="#000"/>
<rect x="245" y="509" width="3" height="1" fill="#000"/>
<rect x="251" y="509" width="3" height="1" fill="#000"/>
<rect x="257" y="509" width="3" height="1" fill="#000"/>
<rect x="263" y="509" width="3" height="1" fill="#000"/>
<rect x="269" y="509" width="3" height="1" fill="#000"/>
<rect x="275" y="509" width="3" height="1" fill="#000"/>
<rect x="281" y="509" width="3" height="1" fill="#000"/>
<rect x="287" y="509" width="3" height="1" fill="#000"/>
<rect x="293" y="509" width="3" height="1" fill="#000"/>
<rect x="299" y="509" width="3" height="1" fill="#000"/>
<rect x="305" y="509" width="3" height="1" fill="#000"/>
<rect x="311" y="509" width="3" height="1" fill="#000"/>
<rect x="317" y="509" width="3" height="1" fill="#000"/>
<rect x="323" y="509" width="3" height="1" fill="#000"/>
<rect x="329" y="509" width="3" height="1" fill="#000"/>
<rect x="335" y="509" width="3" height="1" fill="#000"/>
<rect x="341" y="509" width="3" height="1" fill="#000"/>
<rect x="347" y="509" width="3" height="1" fill="#000"/>
<rect x="353" y="509" width="3" height="1" fill="#000"/>
<rect x="359" y="509" width="3" height="1" fill="#000"/>
<rect x="365" y="509" width="3" height="1" fill="#000"/>
<rect x="371" y="509" width="3" height="1" fill="#000"/>
<rect x="377" y="509" width="3" height="1" fill="#000"/>
<rect x="383" y="509" width="3" height="1" fill="#000"/>
<rect x="389" y="509" width="3" height="1" fill="#000"/>
<rect x="395" y="509" width="3" height="1" fill="#000"/>
<rect x="401" y="509" width="3" height="1" fill="#000"/>
<rect x="407" y="509" width="3" height="1" fill="#000"/>
<rect x="413" y="509" width="3" height="1" fill="#000"/>
<rect x="419" y="509" width="3" height="1" fill="#000"/>
<rect x="425" y="509" width="3" height="1" fill="#000"/>
<rect x="431" y="509" width="3" height="1" fill="#000"/>
<rect x="437" y="509" width="3" height="1" fill="#000"/>
<rect x="443" y="509" width="3" height="1" fill="#000"/>
<rect x="449" y="509" width="3" height="1" fill="#000"/>
<rect x="455" y="509" width="3" height="1" fill="#000"/>
<rect x="461" y="509" width="3" height="1" fill="#000"/>
<rect x="467" y="509" width="3" height="1" fill="#000"/>
<rect x="473" y="509" width="3" height="1" fill="#000"/>
<rect x="479" y="509" width="3" height="1" fill="#000"/>
<rect x="485" y="509" width="3" height="1" fill="#000"/>
<rect x="491" y="509" width="3" height="1" fill="#000"/>
<rect x="497" y="509" width="3" height="1" fill="#000"/>
<rect x="503" y="509" width="3" height="1" fill="#000"/>
<rect x="509" y="509" width="3" height="1" fill="#000"/>
<rect x="515" y="509" width="3" height="1" fill="#000"/>
<rect x="521" y="509" width="3" height="1" fill="#000"/>
<rect x="527" y="509" width="3" height="1" fill="#000"/>
<rect x="533" y="509" width="3" height="1" fill="#000"/>
<rect x="539" y="509" width="3" height="1" fill="#000"/>
<rect x="545" y="509" width="3" height="1" fill="#000"/>
<rect x="551" y="509" width="3" height="1" fill="#000"/>
<rect x="557" y="509" width="3" height="1" fill="#000"/>
<rect x="563" y="509" width="3" height="1" fill="#000"/>
<rect x="569" y="509" width="3" height="1" fill="#000"/>
<rect x="575" y="509" width="3" height="1" fill="#000"/>
<rect x="581" y="509" width="3" height="1" fill="#000"/>
<rect x="587" y="509" width="3" height="1" fill="#000"/>
<rect x="593" y="509" width="3" height="1" fill="#000"/>
<rect x="599" y="509" width="3" height="1" fill="#000"/>
<rect x="605" y="509" width="3" height="1" fill="#000"/>
<rect x="611" y="509" width="3" height="1" fill="#000"/>
<rect x="617" y="509" width="3" height="1" fill="#000"/>
<rect x="623" y="509" width="3" height="1" fill="#000"/>
<rect x="629" y="509" width="3" height="1" fill="#000"/>
<rect x="635" y="509" width="3" height="1" fill="#000"/>
<rect x="641" y="509" width="3" height="1" fill="#000"/>
<rect x="647" y="509" width="3" height="1" fill="#000"/>
<rect x="653" y="509" width="3" height="1" fill="#000"/>
<rect x="659" y="509" width="3" height="1" fill="#000"/>
<rect x="665" y="509" width="3" height="1" fill="#000"/>
<rect x="671" y="509" width="3" height="1" fill="#000"/>
<rect x="677" y="509" width="3" height="1" fill="#000"/>
<rect x="683" y="509" width="3" height="1" fill="#000"/>
<rect x="689" y="509" width="3" height="1" fill="#000"/>
<rect x="695" y="509" width="3" height="1" fill="#000"/>
<rect x="701" y="509" width="3" height="1" fill="#000"/>
<rect x="707" y="509" width="3" height="1" fill="#000"/>
<rect x="713" y="509" width="3" height="1" fill="#000"/>
<rect x="719" y="509" width="3" height="1" fill="#000"/>
<rect x="725" y="509" width="3" height="1" fill="#000"/>
<rect x="731" y="509" width="3" height="1" fill="#000"/>
<rect x="737" y="509" width="3" height="1" fill="#000"/>
<rect x="743" y="509" width="3" height="1" fill="#000"/>
<rect x="749" y="509" width="3" height="1" fill="#000"/>
<rect x="755" y="509" width="3" height="1" fill="#000"/>
<rect x="761" y="509" width="3" height="1" fill="#000"/>
<rect x="767" y="509" width="3" height="1" fill="#000"/>
<rect x="773" y="509" width="3" height="1" fill="#000"/>
<rect x="779" y="509" width="3" height="1" fill="#000"/>
<rect x="785" y="509" width="3" height="1" fill="#000"/>
<rect x="791" y="509" width="3" height="1" fill="#000"/>
<rect x="797" y="509" width="3" height="1" fill="#000"/>
<rect x="803" y="509" width="3" height="1" fill="#000"/>
<rect x="809" y="509" width="3" height="1" fill="#000"/>
<rect x="815" y="509" width="3" height="1" fill="#000"/>
<rect x="821" y="509" width="3" height="1" fill="#000"/>
<rect x="827" y="509" width="3" height="1" fill="#000"/>
<rect x="833" y="509" width="3" height="1" fill="#000"/>
<rect x="839" y="509" width="3" height="1" fill="#000"/>
<rect x="845" y="509" width="3" height="1" fill="#000"/>
<rect x="851" y="509" width="3" height="1" fill="#000"/>
<rect x="857" y="509" width="3" height="1" fill="#000"/>
<rect x="863" y="509" width="3" height="1" fill="#000"/>
<rect x="869" y="509" width="3" height="1" fill="#000"/>
<rect x="875" y="509" width="3" height="1" fill="#000"/>
<rect x="881" y="509" width="3" height="1" fill="#000"/>
<rect x="887" y="509" width="3" height="1" fill="#000"/>
<rect x="893" y="509" width="3" height="1" fill="#000"/>
<rect x="899" y="509" width="3" height="1" fill="#000"/>
<rect x="905" y="509" width="3" height="1" fill="#000"/>
<rect x="911" y="509" width="3" height="1" fill="#000"/>
<rect x="917" y="509" width="3" height="1" fill="#000"/>
<rect x="923" y="509" width="3" height="1" fill="#000"/>
<rect x="929" y="509" width="3" height="1" fill="#000"/>
<rect x="935" y="509" width="3" height="1" fill="#000"/>
<rect x="941" y="509" width="3" height="1" fill="#000"/>
<rect x="947" y="509" width="3" height="1" fill="#000"/>
<rect x="953" y="509" width="3" height="1" fill="#000"/>
<rect x="959" y="509" width="3" height="1" fill="#000"/>
<rect x="965" y="509" width="3" height="1" fill="#000"/>
<rect x="971" y="509" width="3" height="1" fill="#000"/>
<rect x="977" y="509" width="3" height="1" fill="#000"/>
<rect x="983" y="509" width="3" height="1" fill="#000"/>
<rect x="989" y="509" width="3" height="1" fill="#000"/>
<rect x="995" y="509" width="3" height="1" fill="#000"/>
<rect x="1001" y="509" width="3" height="1" fill="#000"/>
<rect x="1007" y="509" width="3" height="1" fill="#000"/>
<rect x="1013" y="509" width="3" height="1" fill="#000"/>
<rect x="1019" y="509" width="3" height="1" fill="#000"/>
<rect x="1025" y="509" width="3" height="1" fill="#000"/>
<rect x="1031" y="509" width="3" height="1" fill="#000"/>
<rect x="1037" y="509" width="3" height="1" fill="#000"/>
<rect x="1043" y="509" width="3" height="1" fill="#000"/>
<rect x="1049" y="509" width="3" height="1" fill="#000"/>
<rect x="1055" y="509" width="3" height="1" fill="#000"/>
<rect x="1061" y="509" width="3" height="1" fill="#000"/>
<rect x="1067" y="509" width="3" height="1" fill="#000"/>
<rect x="1073" y="509" width="3" height="1" fill="#000"/>
<rect x="1079" y="509" width="3" height="1" fill="#000"/>
<rect x="1085" y="509" width="3" height="1" fill="#000"/>
<rect x="1091" y="509" width="3" height="1" fill="#000"/>
<rect x="1097" y="509" width="3" height="1" fill="#000"/>
<rect x="1103" y="509" width="3" height="1" fill="#000"/>
<rect x="1109" y="509" width="3" height="1" fill="#000"/>
<rect x="1115" y="509" width="3" height="1" fill="#000"/>
<rect x="1121" y="509" width="3" height="1" fill="#000"/>
<rect x="1127" y="509" width="3" height="1" fill="#000"/>
<rect x="1133" y="509" width="3" height="1" fill="#000"/>
<rect x="1139" y="509" width="3" height="1" fill="#000"/>
<rect x="1145" y="509" width="3" height="1" fill="#000"/>
<rect x="1151" y="509" width="3" height="1" fill="#000"/>
<rect x="1157" y="509" width="3" height="1" fill="#000"/>
<rect x="1163" y="509" width="3" height="1" fill="#000"/>
<rect x="5" y="528" width="3" height="1" fill="#000"/>
<rect x="11" y="528" width="3" height="1" fill="#000"/>
<rect x="17" y="528" width="3" height="1" fill="#000"/>
<rect x="23" y="528" width="3" height="1" fill="#000"/>
<rect x="29" y="528" width="3" height="1" fill="#000"/>
<rect x="35" y="528" width="3" height="1" fill="#000"/>
<rect x="41" y="528" width="3" height="1" fill="#000"/>
<rect x="47" y="528" width="3" height="1" fill="#000"/>
<rect x="53" y="528" width="3" height="1" fill="#000"/>
<rect x="59" y="528" width="3" height="1" fill="#000"/>
<rect x="65" y="528" width="3" height="1" fill="#000"/>
<rect x="71" y="528" width="3" height="1" fill="#000"/>
<rect x="77" y="528" width="3" height="1" fill="#000"/>
<rect x="83" y="528" width="3" height="1" fill="#000"/>
<rect x="89" y="528" width="3" height="1" fill="#000"/>
<rect x="95" y="528" width="3" height="1" fill="#000"/>
<rect x="101" y="528" width="3" height="1" fill="#000"/>
<rect x="107" y="528" width="3" height="1" fill="#000"/>
<rect x="113" y="528" width="3" height="1" fill="#000"/>
<rect x="119" y="528" width="3" height="1" fill="#000"/>
<rect x="125" y="528" width="3" height="1" fill="#000"/>
<rect x="131" y="528" width="3" height="1" fill="#000"/>
<rect x="137" y="528" width="3" height="1" fill="#000"/>
<rect x="143" y="528" width="3" height="1" fill="#000"/>
<rect x="149" y="528" width="3" height="1" fill="#000"/>
<rect x="155" y="528" width="3" height="1" fill="#000"/>
<rect x="161" y="528" width="3" height="1" fill="#000"/>
<rect x="167" y="528" width="3" height="1" fill="#000"/>
<rect x="173" y="528" width="3" height="1" fill="#000"/>
<rect x="179" y="528" width="3" height="1" fill="#000"/>
<rect x="185" y="528" width="3" height="1" fill="#000"/>
<rect x="191" y="528" width="3" height="1" fill="#000"/>
<rect x="197" y="528" width="3" height="1" fill="#000"/>
<rect x="203" y="528" width="3" height="1" fill="#000"/>
<rect x="209" y="528" width="3" height="1" fill="#000"/>
<rect x="215" y="528" width="3" height="1" fill="#000"/>
<rect x="221" y="528" width="3" height="1" fill="#000"/>
<rect x="227" y="528" width="3" height="1" fill="#000"/>
<rect x="233" y="528" width="3" height="1" fill="#000"/>
<rect x="239" y="528" width="3" height="1" fill="#000"/>
<rect x="245" y="528" width="3" height="1" fill="#000"/>
<rect x="251" y="528" width="3" height="1" fill="#000"/>
<rect x="257" y="528" width="3" height="1" fill="#000"/>
<rect x="263" y="528" width="3" height="1" fill="#000"/>
<rect x="269" y="528" width="3" height="1" fill="#000"/>
<rect x="275" y="528" width="3" height="1" fill="#000"/>
<rect x="281" y="528" width="3" height="1" fill="#000"/>
<rect x="287" y="528" width="3" height="1" fill="#000"/>
<rect x="293" y="528" width="3" height="1" fill="#000"/>
<rect x="299" y="528" width="3" height="1" fill="#000"/>
<rect x="305" y="528" width="3" height="1" fill="#000"/>
<rect x="311" y="528" width="3" height="1" fill="#000"/>
<rect x="317" y="528" width="3" height="1" fill="#000"/>
<rect x="323" y="528" width="3" height="1" fill="#000"/>
<rect x="329" y="528" width="3" height="1" fill="#000"/>
<rect x="335" y="528" width="3" height="1" fill="#000"/>
<rect x="341" y="528" width="3" height="1" fill="#000"/>
<rect x="347" y="528" width="3" height="1" fill="#000"/>
<rect x="353" y="528" width="3" height="1" fill="#000"/>
<rect x="359" y="528" width="3" height="1" fill="#000"/>
<rect x="365" y="528" width="3" height="1" fill="#000"/>
<rect x="371" y="528" width="3" height="1" fill="#000"/>
<rect x="377" y="528" width="3" height="1" fill="#000"/>
<rect x="383" y="528" width="3" height="1" fill="#000"/>
<rect x="389" y="528" width="3" height="1" fill="#000"/>
<rect x="395" y="528" width="3" height="1" fill="#000"/>
<rect x="401" y="528" width="3" height="1" fill="#000"/>
<rect x="407" y="528" width="3" height="1" fill="#000"/>
<rect x="413" y="528" width="3" height="1" fill="#000"/>
<rect x="419" y="528" width="3" height="1" fill="#000"/>
<rect x="425" y="528" width="3" height="1" fill="#000"/>
<rect x="431" y="528" width="3" height="1" fill="#000"/>
<rect x="437" y="528" width="3" height="1" fill="#000"/>
<rect x="443" y="528" width="3" height="1" fill="#000"/>
<rect x="449" y="528" width="3" height="1" fill="#000"/>
<rect x="455" y="528" width="3" height="1" fill="#000"/>
<rect x="461" y="528" width="3" height="1" fill="#000"/>
<rect x="467" y="528" width="3" height="1" fill="#000"/>
<rect x="473" y="528" width="3" height="1" fill="#000"/>
<rect x="479" y="528" width="3" height="1" fill="#000"/>
<rect x="485" y="528" width="3" height="1" fill="#000"/>
<rect x="491" y="528" width="3" height="1" fill="#000"/>
<rect x="497" y="528" width="3" height="1" fill="#000"/>
<rect x="503" y="528" width="3" height="1" fill="#000"/>
<rect x="509" y="528" width="3" height="1" fill="#000"/>
<rect x="515" y="528" width="3" height="1" fill="#000"/>
<rect x="521" y="528" width="3" height="1" fill="#000"/>
<rect x="527" y="528" width="3" height="1" fill="#000"/>
<rect x="533" y="528" width="3" height="1" fill="#000"/>
<rect x="539" y="528" width="3" height="1" fill="#000"/>
<rect x="545" y="528" width="3" height="1" fill="#000"/>
<rect x="551" y="528" width="3" height="1" fill="#000"/>
<rect x="557" y="528" width="3" height="1" fill="#000"/>
<rect x="563" y="528" width="3" height="1" fill="#000"/>
<rect x="569" y="528" width="3" height="1" fill="#000"/>
<rect x="575" y="528" width="3" height="1" fill="#000"/>
<rect x="581" y="528" width="3" height="1" fill="#000"/>
<rect x="587" y="528" width="3" height="1" fill="#000"/>
<rect x="593" y="528" width="3" height="1" fill="#000"/>
<rect x="599" y="528" width="3" height="1" fill="#000"/>
<rect x="605" y="528" width="3" height="1" fill="#000"/>
<rect x="611" y="528" width="3" height="1" fill="#000"/>
<rect x="617" y="528" width="3" height="1" fill="#000"/>
<rect x="623" y="528" width="3" height="1" fill="#000"/>
<rect x="629" y="528" width="3" height="1" fill="#000"/>
<rect x="635" y="528" width="3" height="1" fill="#000"/>
<rect x="641" y="528" width="3" height="1" fill="#000"/>
<rect x="647" y="528" width="3" height="1" fill="#000"/>
<rect x="653" y="528" width="3" height="1" fill="#000"/>
<rect x="659" y="528" width="3" height="1" fill="#000"/>
<rect x="665" y="528" width="3" height="1" fill="#000"/>
<rect x="671" y="528" width="3" height="1" fill="#000"/>
<rect x="677" y="528" width="3" height="1" fill="#000"/>
<rect x="683" y="528" width="3" height="1" fill="#000"/>
<rect x="689" y="528" width="3" height="1" fill="#000"/>
<rect x="695" y="528" width="3" height="1" fill="#000"/>
<rect x="701" y="528" width="3" height="1" fill="#000"/>
<rect x="707" y="528" width="3" height="1" fill="#000"/>
<rect x="713" y="528" width="3" height="1" fill="#000"/>
<rect x="719" y="528" width="3" height="1" fill="#000"/>
<rect x="725" y="528" width="3" height="1" fill="#000"/>
<rect x="731" y="528" width="3" height="1" fill="#000"/>
<rect x="737" y="528" width="3" height="1" fill="#000"/>
<rect x="743" y="528" width="3" height="1" fill="#000"/>
<rect x="749" y="528" width="3" height="1" fill="#000"/>
<rect x="755" y="528" width="3" height="1" fill="#000"/>
<rect x="761" y="528" width="3" height="1" fill="#000"/>
<rect x="767" y="528" width="3" height="1" fill="#000"/>
<rect x="773" y="528" width="3" height="1" fill="#000"/>
<rect x="779" y="528" width="3" height="1" fill="#000"/>
<rect x="785" y="528" width="3" height="1" fill="#000"/>
<rect x="791" y="528" width="3" height="1" fill="#000"/>
<rect x="797" y="528" width="3" height="1" fill="#000"/>
<rect x="803" y="528" width="3" height="1" fill="#000"/>
<rect x="809" y="528" width="3" height="1" fill="#000"/>
<rect x="815" y="528" width="3" height="1" fill="#000"/>
<rect x="821" y="528" width="3" height="1" fill="#000"/>
<rect x="827" y="528" width="3" height="1" fill="#000"/>
<rect x="833" y="528" width="3" height="1" fill="#000"/>
<rect x="839" y="528" width="3" height="1" fill="#000"/>
<rect x="845" y="528" width="3" height="1" fill="#000"/>
<rect x="851" y="528" width="3" height="1" fill="#000"/>
<rect x="857" y="528" width="3" height="1" fill="#000"/>
<rect x="863" y="528" width="3" height="1" fill="#000"/>
<rect x="869" y="528" width="3" height="1" fill="#000"/>
<rect x="875" y="528" width="3" height="1" fill="#000"/>
<rect x="881" y="528" width="3" height="1" fill="#000"/>
<rect x="887" y="528" width="3" height="1" fill="#000"/>
<rect x="893" y="528" width="3" height="1" fill="#000"/>
<rect x="899" y="528" width="3" height="1" fill="#000"/>
<rect x="905" y="528" width="3" height="1" fill="#000"/>
<rect x="911" y="528" width="3" height="1" fill="#000"/>
<rect x="917" y="528" width="3" height="1" fill="#000"/>
<rect x="923" y="528" width="3" height="1" fill="#000"/>
<rect x="929" y="528" width="3" height="1" fill="#000"/>
<rect x="935" y="528" width="3" height="1" fill="#000"/>
<rect x="941" y="528" width="3" height="1" fill="#000"/>
<rect x="947" y="528" width="3" height="1" fill="#000"/>
<rect x="953" y="528" width="3" height="1" fill="#000"/>
<rect x="959" y="528" width="3" height="1" fill="#000"/>
<rect x="965" y="528" width="3" height="1" fill="#000"/>
<rect x="971" y="528" width="3" height="1" fill="#000"/>
<rect x="977" y="528" width="3" height="1" fill="#000"/>
<rect x="983" y="528" width="3" height="1" fill="#000"/>
<rect x="989" y="528" width="3" height="1" fill="#000"/>
<rect x="995" y="528" width="3" height="1" fill="#000"/>
<rect x="1001" y="528" width="3" height="1" fill="#000"/>
<rect x="1007" y="528" width="3" height="1" fill="#000"/>
<rect x="1013" y="528" width="3" height="1" fill="#000"/>
<rect x="1019" y="528" width="3" height="1" fill="#000"/>
<rect x="1025" y="528" width="3" height="1" fill="#000"/>
<rect x="1031" y="528" width="3" height="1" fill="#000"/>
<rect x="1037" y="528" width="3" height="1" fill="#000"/>
<rect x="1043" y="528" width="3" height="1" fill="#000"/>
<rect x="1049" y="528" width="3" height="1" fill="#000"/>
<rect x="1055" y="528" width="3" height="1" fill="#000"/>
<rect x="1061" y="528" width="3" height="1" fill="#000"/>
<rect x="1067" y="528" width="3" height="1" fill="#000"/>
<rect x="1073" y="528" width="3" height="1" fill="#000"/>
<rect x="1079" y="528" width="3" height="1" fill="#000"/>
<rect x="1085" y="528" width="3" height="1" fill="#000"/>
<rect x="1091" y="528" width="3" height="1" fill="#000"/>
<rect x="1097" y="528" width="3" height="1" fill="#000"/>
<rect x="1103" y="528" width="3" height="1" fill="#000"/>
<rect x="1109" y="528" width="3" height="1" fill="#000"/>
<rect x="1115" y="528" width="3" height="1" fill="#000"/>
<rect x="1121" y="528" width="3" height="1" fill="#000"/>
<rect x="1127" y="528" width="3" height="1" fill="#000"/>
<rect x="1133" y="528" width="3" height="1" fill="#000"/>
<rect x="1139" y="528" width="3" height="1" fill="#000"/>
<rect x="1145" y="528" width="3" height="1" fill="#000"/>
<rect x="1151" y="528" width="3" height="1" fill="#000"/>
<rect x="1157" y="528" width="3" height="1" fill="#000"/>
<rect x="1163" y="528" width="3" height="1" fill="#000"/>
<path d="M4,515 H6.6 V516 H9.3 V517 H19.9 V516 H36.4 V517 H40.4 V518 H44.4 V519 H60.3 V518 H68.2 V517 H80.1 V518 H84.8 V519 H86.1 V520 H87.4 V521 H89 V522 H90.7 V523 H104.6 V522 H108.6 V521 H123.8 V520 H127.8 V519 H132.5 V518 H136.4 V517 H139 V516 H141.7 V515 H163.9 V516 H168.5 V517 H180.5 V516 H188.4 V515 H190.4 V514 H192.4 V513 H194.4 V512 H196.4 V511 H198 V510 H204.3 V511 H220.2 V510 H224.2 V509 H226 V508 H232.1 V509 H234 V510 H240 V509 H244 V508 H267.9 V507 H275.8 V506 H280.5 V505 H285.1 V504 H317.2 V503 H324.5 V504 H326 V505 H327.8 V506 H329.5 V507 H331.1 V508 H335.1 V507 H337.7 V506 H339 V505 H349 V504 H388.7 V503 H396.7 V504 H412.6 V505 H415.2 L416.8,507.5 L420.2,509.9 L423.5,511.9 L426.8,513.6 L430.1,516.5 L433.8,519.2 L436,521 H440.4 V520 H452.3 V521 H456.3 V522 H458 V523 H460 V524 H464.6 V525 H516.2 V524 H520.9 V523 H528.8 V524 H535.4 V523 H538 V522 H541.4 V521 H550.7 V520 H552 V519 H553.3 V518 H556.6 V517 H564.6 V516 H568.5 V515 H572.5 V514 H580.5 V513 H584.4 V512 H588.4 V511 H596.4 V510 H601 V509 H604.6 V508 H612.6 V509 H615.9 V510 H618.5 V511 H620.5 L620.5,511.2 L627.8,521.8 V522 H632.5 V521 H652.3 V522 H660.3 V523 H676.8 V524 H692.7 V525 H727.2 V524 H729.8 V523 H733.8 V522 H748.3 V521 H751 V520 H752.3 V519 H753.6 V518 H756.3 V517 H764.6 V516 H772.6 V515 H776.6 V514 H781.2 V513 H792.5 V512 H804.4 V513 H823.6 V514 H826 V515 H828.2 V516 H832.2 V517 H846.8 V518 H848.8 V519 H850.7 V520 H864.6 V521 H868.6 V522 H872.6 V523 H900.4 V524 H904.4 V525 H917" fill="none" stroke="#1e90ff" stroke-width="2"/>
<rect x="1167" y="495" width="2" height="1" fill="#000"/>
<rect x="1167" y="542" width="2" height="1" fill="#000"/>
<rect x="4" y="543" width="1" height="3" fill="#000"/>
<rect x="68" y="543" width="1" height="3" fill="#000"/>
<rect x="132" y="543" width="1" height="3" fill="#000"/>
<rect x="196" y="543" width="1" height="3" fill="#000"/>
<rect x="260" y="543" width="1" height="3" fill="#000"/>
<rect x="324" y="543" width="1" height="3" fill="#000"/>
<rect x="388" y="543" width="1" height="3" fill="#000"/>
<rect x="452" y="543" width="1" height="3" fill="#000"/>
<rect x="516" y="543" width="1" height="3" fill="#000"/>
<rect x="580" y="543" width="1" height="3" fill="#000"/>
<rect x="644" y="543" width="1" height="3" fill="#000"/>
<rect x="708" y="543" width="1" height="3" fill="#000"/>
<rect x="772" y="543" width="1" height="3" fill="#000"/>
<rect x="836" y="543" width="1" height="3" fill="#000"/>
<rect x="900" y="543" width="1" height="3" fill="#000"/>
</g>
<text x="8.4" y="507" font-size="10" fill="#000" textLength="67.6" lengthAdjust="spacingAndGlyphs" stroke="#000" stroke-width="0.22" text-rendering="geometricPrecision">RSI(14) 37.7586</text>
<text x="1170.3" y="505" font-size="10" fill="#000" textLength="14.3" lengthAdjust="spacingAndGlyphs" stroke="#000" stroke-width="0.22" text-rendering="geometricPrecision">100</text>
<text x="1169.5" y="513" font-size="10" fill="#000" textLength="9.2" lengthAdjust="spacingAndGlyphs" stroke="#000" stroke-width="0.22" text-rendering="geometricPrecision">70</text>
<text x="1169.5" y="532" font-size="10" fill="#000" textLength="9.2" lengthAdjust="spacingAndGlyphs" stroke="#000" stroke-width="0.22" text-rendering="geometricPrecision">30</text>
<text x="1170.3" y="539" font-size="10" fill="#000" textLength="4.5" lengthAdjust="spacingAndGlyphs" stroke="#000" stroke-width="0.22" text-rendering="geometricPrecision">0</text>
<text x="3.6" y="555" font-size="10" fill="#000" textLength="50.9" lengthAdjust="spacingAndGlyphs" stroke="#000" stroke-width="0.22" text-rendering="geometricPrecision">17 Mar 2022</text>
<text x="67.6" y="555" font-size="10" fill="#000" textLength="51.1" lengthAdjust="spacingAndGlyphs" stroke="#000" stroke-width="0.22" text-rendering="geometricPrecision">27 Mar 2022</text>
<text x="131.6" y="555" font-size="10" fill="#000" textLength="45.2" lengthAdjust="spacingAndGlyphs" stroke="#000" stroke-width="0.22" text-rendering="geometricPrecision">5 Apr 2022</text>
<text x="195.6" y="555" font-size="10" fill="#000" textLength="49.9" lengthAdjust="spacingAndGlyphs" stroke="#000" stroke-width="0.22" text-rendering="geometricPrecision">14 Apr 2022</text>
<text x="259.6" y="555" font-size="10" fill="#000" textLength="49.9" lengthAdjust="spacingAndGlyphs" stroke="#000" stroke-width="0.22" text-rendering="geometricPrecision">24 Apr 2022</text>
<text x="323.6" y="555" font-size="10" fill="#000" textLength="49.1" lengthAdjust="spacingAndGlyphs" stroke="#000" stroke-width="0.22" text-rendering="geometricPrecision">3 May 2022</text>
<text x="387.6" y="555" font-size="10" fill="#000" textLength="54.1" lengthAdjust="spacingAndGlyphs" stroke="#000" stroke-width="0.22" text-rendering="geometricPrecision">12 May 2022</text>
<text x="451.6" y="555" font-size="10" fill="#000" textLength="54.1" lengthAdjust="spacingAndGlyphs" stroke="#000" stroke-width="0.22" text-rendering="geometricPrecision">22 May 2022</text>
<text x="515.6" y="555" font-size="10" fill="#000" textLength="53.8" lengthAdjust="spacingAndGlyphs" stroke="#000" stroke-width="0.22" text-rendering="geometricPrecision">31 May 2022</text>
<text x="579.6" y="555" font-size="10" fill="#000" textLength="44.4" lengthAdjust="spacingAndGlyphs" stroke="#000" stroke-width="0.22" text-rendering="geometricPrecision">9 Jun 2022</text>
<text x="643.6" y="555" font-size="10" fill="#000" textLength="48.9" lengthAdjust="spacingAndGlyphs" stroke="#000" stroke-width="0.22" text-rendering="geometricPrecision">19 Jun 2022</text>
<text x="707.6" y="555" font-size="10" fill="#000" textLength="49.1" lengthAdjust="spacingAndGlyphs" stroke="#000" stroke-width="0.22" text-rendering="geometricPrecision">28 Jun 2022</text>
<text x="771.6" y="555" font-size="10" fill="#000" textLength="41.7" lengthAdjust="spacingAndGlyphs" stroke="#000" stroke-width="0.22" text-rendering="geometricPrecision">7 Jul 2022</text>
<text x="835.6" y="555" font-size="10" fill="#000" textLength="45.9" lengthAdjust="spacingAndGlyphs" stroke="#000" stroke-width="0.22" text-rendering="geometricPrecision">17 Jul 2022</text>
<text x="899.6" y="555" font-size="10" fill="#000" textLength="46.5" lengthAdjust="spacingAndGlyphs" stroke="#000" stroke-width="0.22" text-rendering="geometricPrecision">26 Jul 2022</text>
<rect x="0" y="563" width="1208" height="1" fill="#e0e0e0"/>
<rect x="0" y="564" width="1208" height="1" fill="#fff"/>
<rect x="0" y="566" width="1208" height="18" fill="#f0f0f0"/>
<rect x="0" y="584" width="1208" height="2" fill="#fafafa"/>
<rect x="0" y="565" width="1208" height="1" fill="#202020"/>
<rect x="0" y="566" width="1" height="18" fill="#404040"/>
<rect x="221" y="565" width="109" height="19" fill="#000"/>
<rect x="222" y="565" width="106" height="18" fill="#fff"/>
<text x="16.5" y="580" font-size="12" fill="#606060" textLength="84.2" lengthAdjust="spacingAndGlyphs" stroke="#606060" stroke-width="0.12" text-rendering="geometricPrecision">EURUSD-,Daily</text>
<text x="123.3" y="580" font-size="12" fill="#606060" textLength="86.4" lengthAdjust="spacingAndGlyphs" stroke="#606060" stroke-width="0.12" text-rendering="geometricPrecision">AUDUSD-,Daily</text>
<text x="340.4" y="580" font-size="12" fill="#606060" textLength="85.4" lengthAdjust="spacingAndGlyphs" stroke="#606060" stroke-width="0.12" text-rendering="geometricPrecision">USDCAD-,Daily</text>
<text x="448.9" y="580" font-size="12" fill="#606060" textLength="87.3" lengthAdjust="spacingAndGlyphs" stroke="#606060" stroke-width="0.12" text-rendering="geometricPrecision">USDCNH-,Daily</text>
<text x="559.8" y="580" font-size="12" fill="#606060" textLength="86.1" lengthAdjust="spacingAndGlyphs" stroke="#606060" stroke-width="0.12" text-rendering="geometricPrecision">XAUUSD-,Daily</text>
<text x="668.2" y="580" font-size="12" fill="#606060" textLength="68.3" lengthAdjust="spacingAndGlyphs" stroke="#606060" stroke-width="0.12" text-rendering="geometricPrecision">UKOil-,Daily</text>
<text x="761.3" y="580" font-size="12" fill="#606060" textLength="55.3" lengthAdjust="spacingAndGlyphs" stroke="#606060" stroke-width="0.12" text-rendering="geometricPrecision">USOil-,H4</text>
<text x="839" y="580" font-size="12" fill="#606060" textLength="53.8" lengthAdjust="spacingAndGlyphs" stroke="#606060" stroke-width="0.12" text-rendering="geometricPrecision">HK50-,H1</text>
<text x="915.3" y="580" font-size="12" fill="#606060" textLength="70.2" lengthAdjust="spacingAndGlyphs" stroke="#606060" stroke-width="0.12" text-rendering="geometricPrecision">EURCHF-,H1</text>
<text x="1009.2" y="580" font-size="12" fill="#606060" textLength="56.1" lengthAdjust="spacingAndGlyphs" stroke="#606060" stroke-width="0.12" text-rendering="geometricPrecision">USOil-,H4</text>
<text x="1088.3" y="580" font-size="12" fill="#606060" textLength="56.6" lengthAdjust="spacingAndGlyphs" stroke="#606060" stroke-width="0.12" text-rendering="geometricPrecision">UKOil-,H4</text>
<text x="233.7" y="580" font-size="12" fill="#000" textLength="83.2" lengthAdjust="spacingAndGlyphs" stroke="#000" stroke-width="0.12" text-rendering="geometricPrecision">USDCHF-,Daily</text>
<rect x="113" y="568" width="1" height="14" fill="#808080"/>
<rect x="437" y="568" width="1" height="14" fill="#808080"/>
<rect x="549" y="568" width="1" height="14" fill="#808080"/>
<rect x="657" y="568" width="1" height="14" fill="#808080"/>
<rect x="749" y="568" width="1" height="14" fill="#808080"/>
<rect x="829" y="568" width="1" height="14" fill="#808080"/>
<rect x="905" y="568" width="1" height="14" fill="#808080"/>
<rect x="997" y="568" width="1" height="14" fill="#808080"/>
<rect x="1077" y="568" width="1" height="14" fill="#808080"/>
<rect x="1157" y="568" width="1" height="14" fill="#808080"/>
<polygon points="1186,571 1186,579 1182,575" fill="#000"/>
<polygon points="1200,571 1200,579 1204,575" fill="#a0a0a0"/>
</svg>
</body></html>
